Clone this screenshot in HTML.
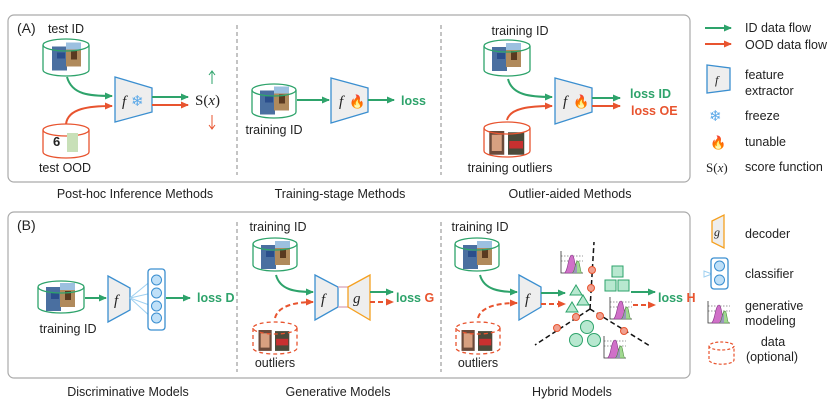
<!DOCTYPE html>
<html><head><meta charset="utf-8"><style>
body{margin:0;background:#fff}
svg{display:block}
text{font-family:"Liberation Sans",sans-serif;font-size:12.5px;fill:#222}
.g{fill:#2ea36b;font-weight:bold}
.r{fill:#e8542f;font-weight:bold}
.it{font-family:"Liberation Serif",serif;font-style:italic;font-size:15px}
</style></head><body>
<svg width="830" height="415" viewBox="0 0 830 415" xmlns="http://www.w3.org/2000/svg">
<defs>
<marker id="ag" markerWidth="8" markerHeight="8" refX="7" refY="4" orient="auto" markerUnits="userSpaceOnUse"><path d="M0,0.5 L8,4 L0,7.5z" fill="#2ea36b"/></marker>
<marker id="ar" markerWidth="8" markerHeight="8" refX="7" refY="4" orient="auto" markerUnits="userSpaceOnUse"><path d="M0,0.5 L8,4 L0,7.5z" fill="#e8542f"/></marker>
<symbol id="imgs" viewBox="0 0 30 30"><rect x="0" y="4" width="15" height="24" fill="#4a6fa0"/><rect x="5" y="10" width="8" height="6" fill="#2b4e8c"/><rect x="14" y="0" width="15" height="24" fill="#b08a5c"/><rect x="14" y="0" width="15" height="7" fill="#9cc0e0"/><rect x="19" y="8" width="6" height="9" fill="#5a3a20"/></symbol>
<symbol id="outl" viewBox="0 0 30 20"><rect x="0" y="0" width="12" height="19" fill="#6b4a3a"/><rect x="2" y="3" width="8" height="13" fill="#d8a080"/><rect x="15" y="1" width="13" height="18" fill="#4a4a3a"/><rect x="16" y="8" width="11" height="6" fill="#c83030"/></symbol>
<symbol id="gen" viewBox="0 0 24 24"><path d="M1,1 V23 H23" fill="none" stroke="#333" stroke-width="0.8"/><path d="M1,6 H23 M1,11 H23" stroke="#333" stroke-width="0.6" stroke-dasharray="1.5,1.5"/><path d="M4,23 C8,23 8,5 12,5 C15,5 15,23 19,23z" fill="#d070c8" stroke="#8a3a8a" stroke-width="0.6"/><path d="M12,23 C15,23 15,11 18,11 C20,11 20,23 22,23z" fill="#a0d890" stroke="#4a8a3a" stroke-width="0.6"/><path d="M12,23 C15,23 15,14 17,14 L17,23z" fill="#9a7ad0" opacity="0.7"/></symbol>
</defs>

<rect x="8" y="15" width="682" height="167" rx="6" fill="none" stroke="#aaa" stroke-width="1.2"/>
<rect x="8" y="212" width="682" height="166" rx="6" fill="none" stroke="#aaa" stroke-width="1.2"/>
<g stroke="#888" stroke-dasharray="4,3" stroke-width="1"><line x1="237" y1="25" x2="237" y2="175"/><line x1="441" y1="25" x2="441" y2="175"/><line x1="237" y1="222" x2="237" y2="372"/><line x1="441" y1="222" x2="441" y2="372"/></g>
<text x="17" y="33" style="font-size:14px">(A)</text>
<text x="17" y="230" style="font-size:14px">(B)</text>

<g text-anchor="middle">
<text x="135" y="198">Post-hoc Inference Methods</text>
<text x="340" y="198">Training-stage Methods</text>
<text x="570" y="198">Outlier-aided Methods</text>
<text x="128" y="396">Discriminative Models</text>
<text x="338" y="396">Generative Models</text>
<text x="572" y="396">Hybrid Models</text>
</g>

<!-- A1 -->
<text x="66" y="33" text-anchor="middle">test ID</text>
<use href="#imgs" x="52" y="40" width="30" height="35"/>
<path d="M43,45 v25 a23,6 0 0 0 46,0 v-25" fill="none" stroke="#2ea36b" stroke-width="1.3"/>
<ellipse cx="66" cy="45" rx="23" ry="6" fill="none" stroke="#2ea36b" stroke-width="1.3"/>
<path d="M43,130 v22 a23,6 0 0 0 46,0 v-22" fill="none" stroke="#e8542f" stroke-width="1.3"/>
<ellipse cx="66" cy="130" rx="23" ry="6" fill="none" stroke="#e8542f" stroke-width="1.3"/>
<text x="53" y="146" style="font-size:13px;font-weight:bold">6</text>
<rect x="67" y="133" width="11" height="19" fill="#c8e0b8"/>
<text x="65" y="172" text-anchor="middle">test OOD</text>
<path d="M67,77 C72,95 90,96 112,96" fill="none" stroke="#2ea36b" stroke-width="2" marker-end="url(#ag)"/>
<path d="M66,124 C68,108 90,106 112,106" fill="none" stroke="#e8542f" stroke-width="2" marker-end="url(#ar)"/>
<path d="M115,77 L152,88 L152,112 L115,122z" fill="#eee" stroke="#3b8fd0" stroke-width="1.3"/>
<text x="122" y="106" class="it">f</text>
<text x="131" y="106" style="font-size:15px;fill:#5aa8e8">❄</text>
<path d="M152,97 H188" stroke="#2ea36b" stroke-width="2" marker-end="url(#ag)"/>
<path d="M152,105 H188" stroke="#e8542f" stroke-width="2" marker-end="url(#ar)"/>
<text x="195" y="105" class="it" style="font-style:normal">S(<tspan style="font-style:italic">x</tspan>)</text>
<path d="M212,84 V72 M209,75 L212,71 L215,75" fill="none" stroke="#2ea36b" stroke-width="1"/>
<path d="M212,115 V128 M209,125 L212,129 L215,125" fill="none" stroke="#e8542f" stroke-width="1"/>

<!-- A2 -->
<use href="#imgs" x="260" y="84" width="30" height="35"/>
<path d="M252,90 v22 a22,6 0 0 0 44,0 v-22" fill="none" stroke="#2ea36b" stroke-width="1.3"/>
<ellipse cx="274" cy="90" rx="22" ry="6" fill="none" stroke="#2ea36b" stroke-width="1.3"/>
<text x="274" y="134" text-anchor="middle">training ID</text>
<path d="M297,100 H329" stroke="#2ea36b" stroke-width="2" marker-end="url(#ag)"/>
<path d="M331,78 L368,88 L368,112 L331,123z" fill="#eee" stroke="#3b8fd0" stroke-width="1.3"/>
<text x="339" y="106" class="it">f</text>
<text x="349" y="106" style="font-size:13px">🔥</text>
<path d="M368,100 H394" stroke="#2ea36b" stroke-width="2" marker-end="url(#ag)"/>
<text x="401" y="105" class="g">loss</text>

<!-- A3 -->
<text x="520" y="35" text-anchor="middle">training ID</text>
<use href="#imgs" x="492" y="40" width="30" height="36"/>
<path d="M484,46 v24 a23,6 0 0 0 46,0 v-24" fill="none" stroke="#2ea36b" stroke-width="1.3"/>
<ellipse cx="507" cy="46" rx="23" ry="6" fill="none" stroke="#2ea36b" stroke-width="1.3"/>
<use href="#outl" x="488" y="131" width="40" height="25"/>
<path d="M484,128 v23 a23,6 0 0 0 46,0 v-23" fill="none" stroke="#e8542f" stroke-width="1.3"/>
<ellipse cx="507" cy="128" rx="23" ry="6" fill="none" stroke="#e8542f" stroke-width="1.3"/>
<text x="510" y="172" text-anchor="middle">training outliers</text>
<path d="M508,79 C512,95 530,97 552,97" fill="none" stroke="#2ea36b" stroke-width="2" marker-end="url(#ag)"/>
<path d="M507,120 C510,108 530,106 552,106" fill="none" stroke="#e8542f" stroke-width="2" marker-end="url(#ar)"/>
<path d="M555,78 L592,88 L592,112 L555,124z" fill="#eee" stroke="#3b8fd0" stroke-width="1.3"/>
<text x="563" y="106" class="it">f</text>
<text x="573" y="106" style="font-size:13px">🔥</text>
<path d="M592,98 H620" stroke="#2ea36b" stroke-width="2" marker-end="url(#ag)"/>
<path d="M592,106 H620" stroke="#e8542f" stroke-width="2" marker-end="url(#ar)"/>
<text x="630" y="98" class="g">loss ID</text>
<text x="631" y="115" class="r">loss OE</text>

<!-- legend A -->
<path d="M705,28 H731" stroke="#2ea36b" stroke-width="2" marker-end="url(#ag)"/>
<path d="M705,44 H731" stroke="#e8542f" stroke-width="2" marker-end="url(#ar)"/>
<text x="745" y="32">ID data flow</text>
<text x="745" y="49">OOD data flow</text>
<path d="M707,65 L730,68 L730,90 L707,93z" fill="#eee" stroke="#3b8fd0" stroke-width="1.3"/>
<text x="715" y="84" class="it" style="font-size:12px">f</text>
<text x="745" y="79">feature</text>
<text x="745" y="95">extractor</text>
<text x="709" y="121" style="font-size:15px;fill:#5aa8e8">❄</text>
<text x="745" y="120">freeze</text>
<text x="710" y="147" style="font-size:13px">🔥</text>
<text x="745" y="146">tunable</text>
<text x="706" y="172" class="it" style="font-size:13px;font-style:normal">S(<tspan style="font-style:italic">x</tspan>)</text>
<text x="745" y="171">score function</text>

<!-- B1 -->
<use href="#imgs" x="46" y="280" width="30" height="36"/>
<path d="M38,287 v20 a23,6 0 0 0 46,0 v-20" fill="none" stroke="#2ea36b" stroke-width="1.3"/>
<ellipse cx="61" cy="287" rx="23" ry="6" fill="none" stroke="#2ea36b" stroke-width="1.3"/>
<text x="68" y="333" text-anchor="middle">training ID</text>
<path d="M85,298 H106" stroke="#2ea36b" stroke-width="2" marker-end="url(#ag)"/>
<path d="M108,276 L130,288 L130,310 L108,322z" fill="#eee" stroke="#3b8fd0" stroke-width="1.3"/>
<text x="114" y="305" class="it">f</text>
<g stroke="#9fd0f0" stroke-width="1"><line x1="130" y1="298" x2="152" y2="280"/><line x1="130" y1="298" x2="152" y2="293"/><line x1="130" y1="298" x2="152" y2="306"/><line x1="130" y1="298" x2="152" y2="318"/></g>
<rect x="148" y="269" width="17" height="61" rx="3" fill="#fff" stroke="#3b8fd0" stroke-width="1.3"/>
<g fill="#bfe0f8" stroke="#3b8fd0"><circle cx="156.5" cy="280" r="5"/><circle cx="156.5" cy="293" r="5"/><circle cx="156.5" cy="306" r="5"/><circle cx="156.5" cy="318" r="5"/></g>
<path d="M166,298 H190" stroke="#2ea36b" stroke-width="2" marker-end="url(#ag)"/>
<text x="197" y="302" class="g">loss D</text>

<!-- B2 -->
<text x="278" y="231" text-anchor="middle">training ID</text>
<use href="#imgs" x="261" y="238" width="30" height="36"/>
<path d="M253,244 v21 a22,6 0 0 0 44,0 v-21" fill="none" stroke="#2ea36b" stroke-width="1.3"/>
<ellipse cx="275" cy="244" rx="22" ry="6" fill="none" stroke="#2ea36b" stroke-width="1.3"/>
<use href="#outl" x="258" y="330" width="34" height="22"/>
<path d="M253,328 v20 a22,6 0 0 0 44,0 v-20" fill="none" stroke="#e8542f" stroke-width="1.3" stroke-dasharray="4,3"/>
<ellipse cx="275" cy="328" rx="22" ry="6" fill="none" stroke="#e8542f" stroke-width="1.3" stroke-dasharray="4,3"/>
<text x="275" y="367" text-anchor="middle">outliers</text>
<path d="M276,275 C280,290 295,292 313,292" fill="none" stroke="#2ea36b" stroke-width="2" marker-end="url(#ag)"/>
<path d="M275,318 C278,306 295,302 313,302" fill="none" stroke="#e8542f" stroke-width="2" stroke-dasharray="5,3" marker-end="url(#ar)"/>
<path d="M315,275 L338,287 L338,307 L315,320z" fill="#eee" stroke="#3b8fd0" stroke-width="1.3"/>
<text x="321" y="304" class="it">f</text>
<path d="M338,287 H348 M338,307 H348" stroke="#d8a0b8" stroke-width="1.3"/>
<path d="M348,287 L370,275 L370,320 L348,307z" fill="#eee" stroke="#f5a020" stroke-width="1.3"/>
<text x="353" y="303" class="it">g</text>
<path d="M370,292 H393" stroke="#2ea36b" stroke-width="2" marker-end="url(#ag)"/>
<path d="M370,302 H393" stroke="#e8542f" stroke-width="2" stroke-dasharray="5,3" marker-end="url(#ar)"/>
<text x="396" y="302" class="g">loss <tspan class="r">G</tspan></text>

<!-- B3 -->
<text x="480" y="231" text-anchor="middle">training ID</text>
<use href="#imgs" x="463" y="238" width="30" height="36"/>
<path d="M455,244 v21 a22,6 0 0 0 44,0 v-21" fill="none" stroke="#2ea36b" stroke-width="1.3"/>
<ellipse cx="477" cy="244" rx="22" ry="6" fill="none" stroke="#2ea36b" stroke-width="1.3"/>
<use href="#outl" x="461" y="330" width="34" height="22"/>
<path d="M456,328 v20 a22,6 0 0 0 44,0 v-20" fill="none" stroke="#e8542f" stroke-width="1.3" stroke-dasharray="4,3"/>
<ellipse cx="478" cy="328" rx="22" ry="6" fill="none" stroke="#e8542f" stroke-width="1.3" stroke-dasharray="4,3"/>
<text x="478" y="367" text-anchor="middle">outliers</text>
<path d="M480,275 C484,290 500,292 517,292" fill="none" stroke="#2ea36b" stroke-width="2" marker-end="url(#ag)"/>
<path d="M478,318 C481,306 500,303 517,303" fill="none" stroke="#e8542f" stroke-width="2" stroke-dasharray="5,3" marker-end="url(#ar)"/>
<path d="M519,275 L541,287 L541,307 L519,320z" fill="#eee" stroke="#3b8fd0" stroke-width="1.3"/>
<text x="525" y="304" class="it">f</text>
<path d="M541,293 H565" stroke="#2ea36b" stroke-width="2" marker-end="url(#ag)"/>
<path d="M541,304 H565" stroke="#e8542f" stroke-width="2" stroke-dasharray="5,3" marker-end="url(#ar)"/>
<g stroke="#111" stroke-width="1.5" stroke-dasharray="5,3"><line x1="590" y1="309" x2="594" y2="242"/><line x1="590" y1="309" x2="535" y2="345"/><line x1="590" y1="309" x2="650" y2="346"/></g>
<g fill="#f0a090" stroke="#e8542f"><circle cx="592" cy="270" r="3.5"/><circle cx="591" cy="288" r="3.5"/><circle cx="600" cy="316" r="3.5"/><circle cx="576" cy="317" r="3.5"/><circle cx="557" cy="328" r="3.5"/><circle cx="624" cy="331" r="3.5"/></g>
<g fill="#b8e8d0" stroke="#2ea36b"><path d="M570,295 L576,285 L582,295z"/><path d="M577,305 L583,295 L589,305z"/><path d="M566,312 L572,302 L578,312z"/>
<rect x="612" y="266" width="11" height="11"/><rect x="605" y="280" width="11" height="11"/><rect x="618" y="280" width="11" height="11"/>
<circle cx="587" cy="327" r="6.5"/><circle cx="576" cy="340" r="6.5"/><circle cx="594" cy="340" r="6.5"/></g>
<use href="#gen" x="560" y="250" width="24" height="24"/>
<use href="#gen" x="609" y="296" width="24" height="24"/>
<use href="#gen" x="603" y="335" width="24" height="24"/>
<path d="M631,292 H655" stroke="#2ea36b" stroke-width="2" marker-end="url(#ag)"/>
<path d="M633,305 H655" stroke="#e8542f" stroke-width="2" stroke-dasharray="5,3" marker-end="url(#ar)"/>
<text x="658" y="302" class="g">loss <tspan class="r">H</tspan></text>

<!-- legend B -->
<path d="M712,221 L724,215 L724,248 L712,242z" fill="#eee" stroke="#f5a020" stroke-width="1.3"/>
<text x="714" y="236" class="it" style="font-size:12px">g</text>
<text x="745" y="238">decoder</text>
<path d="M712,274 L704,271 L704,277z" fill="none" stroke="#9fd0f0"/>
<rect x="711" y="258" width="17" height="31" rx="3" fill="#fff" stroke="#3b8fd0" stroke-width="1.3"/>
<g fill="#bfe0f8" stroke="#3b8fd0"><circle cx="719.5" cy="266" r="5"/><circle cx="719.5" cy="280" r="5"/></g>
<text x="745" y="278">classifier</text>
<use href="#gen" x="707" y="300" width="24" height="24"/>
<text x="745" y="310">generative</text>
<text x="745" y="325">modeling</text>
<path d="M709,346 v14 a12,4 0 0 0 25,0 v-14" fill="none" stroke="#e8542f" stroke-width="1.2" stroke-dasharray="3,2"/>
<ellipse cx="721.5" cy="346" rx="12.5" ry="4" fill="none" stroke="#e8542f" stroke-width="1.2" stroke-dasharray="3,2"/>
<text x="773" y="346" text-anchor="middle">data</text>
<text x="772" y="361" text-anchor="middle">(optional)</text>
</svg>
</body></html>
